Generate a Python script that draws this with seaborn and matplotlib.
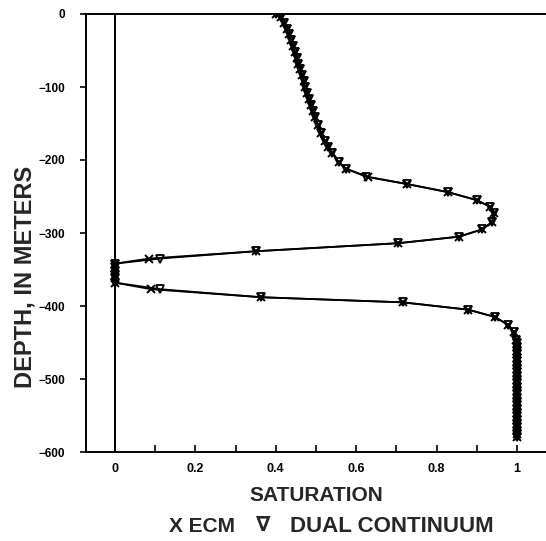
import matplotlib
matplotlib.use("Agg")
import matplotlib.pyplot as plt
import seaborn as sns
import pandas as pd
from matplotlib.ticker import MultipleLocator, FixedLocator

# ---- data ----
depth = [0, -4, -12, -20, -28, -36, -44, -52, -60, -68, -76, -84, -92, -100,
         -108, -116, -125, -133, -141, -152, -163, -174, -182, -190, -203, -212,
         -223, -233, -244, -255, -264, -273, -285, -295, -305, -314, -325, -335,
         -342, -347, -352, -357, -362, -368, -377, -388, -395, -405, -415, -426,
         -436, -446, -451, -456, -461, -466, -471, -476, -481, -486, -491, -496,
         -501, -506, -511, -516, -521, -526, -531, -536, -541, -546, -551, -556,
         -561, -566, -571, -576, -580]
sat_ecm = [0.400, 0.413, 0.421, 0.427, 0.433, 0.438, 0.443, 0.448, 0.452, 0.456, 0.460, 0.464, 0.469, 0.473,
           0.478, 0.483, 0.488, 0.493, 0.498, 0.505, 0.513, 0.522, 0.530, 0.540, 0.556, 0.575,
           0.629, 0.727, 0.828, 0.900, 0.933, 0.943, 0.938, 0.913, 0.856, 0.704, 0.350, 0.085,
           0.0, 0.0, 0.0, 0.0, 0.0, 0.0, 0.090, 0.364, 0.716, 0.878, 0.945, 0.978,
           0.992, 0.998, 1.0, 1.0, 1.0, 1.0, 1.0, 1.0, 1.0, 1.0, 1.0, 1.0,
           1.0, 1.0, 1.0, 1.0, 1.0, 1.0, 1.0, 1.0, 1.0, 1.0, 1.0, 1.0,
           1.0, 1.0, 1.0, 1.0, 1.0]
sat_dual = [0.400, 0.413, 0.421, 0.427, 0.433, 0.438, 0.443, 0.448, 0.452, 0.456, 0.460, 0.464, 0.469, 0.473,
            0.478, 0.483, 0.488, 0.493, 0.498, 0.505, 0.513, 0.522, 0.530, 0.540, 0.556, 0.575,
            0.625, 0.727, 0.828, 0.900, 0.933, 0.943, 0.938, 0.913, 0.856, 0.704, 0.350, 0.112,
            0.0, 0.0, 0.0, 0.0, 0.0, 0.0, 0.113, 0.364, 0.716, 0.878, 0.945, 0.978,
            0.992, 0.998, 1.0, 1.0, 1.0, 1.0, 1.0, 1.0, 1.0, 1.0, 1.0, 1.0,
            1.0, 1.0, 1.0, 1.0, 1.0, 1.0, 1.0, 1.0, 1.0, 1.0, 1.0, 1.0,
            1.0, 1.0, 1.0, 1.0, 1.0]
x_ticks = [0, 0.2, 0.4, 0.6, 0.8, 1]
x_tick_labels = ["0", "0.2", "0.4", "0.6", "0.8", "1"]
y_ticks = [0, -100, -200, -300, -400, -500, -600]
y_tick_labels = ["0", "\u2212100", "\u2212200", "\u2212300", "\u2212400", "\u2212500", "\u2212600"]

df_ecm = pd.DataFrame({"sat": sat_ecm, "depth": depth})
df_dual = pd.DataFrame({"sat": sat_dual, "depth": depth})

sns.set_theme(style="white")
plt.rcParams["font.family"] = ["Liberation Sans", "DejaVu Sans"]
plt.rcParams["font.weight"] = "bold"

fig = plt.figure(figsize=(5.46, 5.41), dpi=100)
ax = fig.add_axes([86 / 546, 1 - 452 / 541, 1 - 86 / 546, (452 - 14) / 541])

ax.axvline(0, color="black", lw=1.4, zorder=1)

sns.lineplot(data=df_ecm, x="sat", y="depth", sort=False, estimator=None, ax=ax,
             color="black", lw=1.3, marker="x", markersize=5.5, mew=1.4, mec="black", zorder=3)
sns.lineplot(data=df_dual, x="sat", y="depth", sort=False, estimator=None, ax=ax,
             color="black", lw=1.3, marker="v", markersize=6, mew=1.3, mec="black",
             mfc="none", zorder=3)

ax.set_xlim(-0.072, 1.072)
ax.set_ylim(-600, 0)

for s in ["left", "top", "bottom"]:
    ax.spines[s].set_visible(True)
    ax.spines[s].set_color("black")
    ax.spines[s].set_linewidth(1.4)
ax.spines["right"].set_visible(False)

ax.xaxis.set_major_locator(FixedLocator(x_ticks))
ax.xaxis.set_minor_locator(MultipleLocator(0.1))
ax.set_xticklabels(x_tick_labels, fontsize=9, fontweight="bold")
ax.set_yticks(y_ticks)
ax.set_yticklabels(y_tick_labels, fontsize=8.5, fontweight="bold")
ax.tick_params(axis="x", which="both", direction="in", length=5, width=1.2,
               bottom=True, top=False, pad=8, colors="black")
ax.tick_params(axis="y", which="major", direction="out", length=4, width=1.2,
               left=True, pad=11, colors="black")

ax.set_xlabel("SATURATION", fontsize=15, fontweight="bold", labelpad=8)
ax.set_ylabel("DEPTH, IN METERS", fontsize=17, fontweight="bold")
ax.yaxis.set_label_coords((37 - 86) / 460, (452 - 277) / 438)

fig.text(169 / 546, 1 - 526 / 541, "X ECM", ha="left", va="center",
         fontsize=15, fontweight="bold")
fig.text(263 / 546, 1 - 525 / 541, "\u2207", ha="center", va="center",
         fontsize=15, family=["DejaVu Sans"])
fig.text(290 / 546, 1 - 526 / 541, "DUAL CONTINUUM", ha="left", va="center",
         fontsize=16, fontweight="bold")

fig.savefig("out.png", dpi=100)
